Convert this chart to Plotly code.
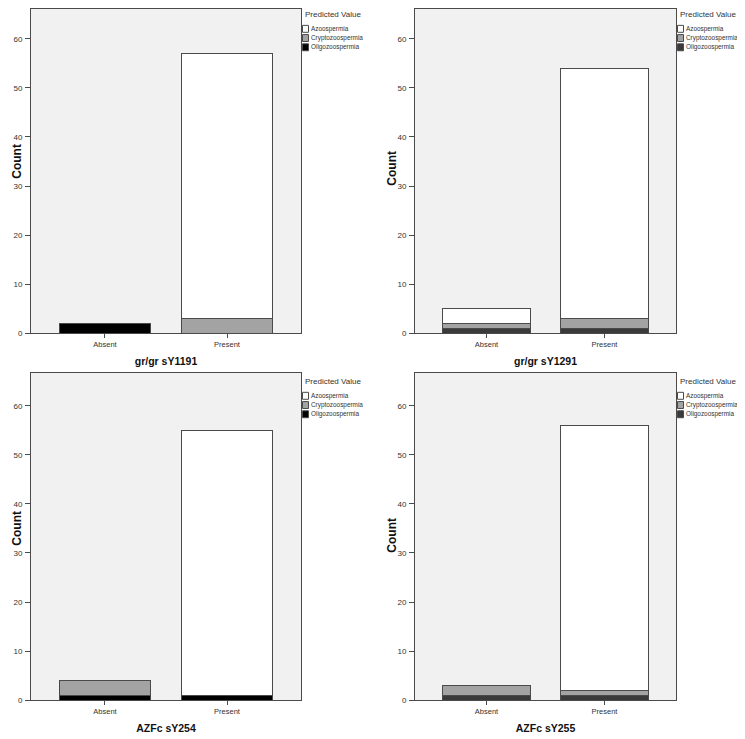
import plotly.graph_objects as go

# ---- data ----
categories = ["Absent", "Present"]
panel_titles = ["gr/gr sY1191", "gr/gr sY1291", "AZFc sY254", "AZFc sY255"]
oligo = [[2, 0], [1, 1], [1, 1], [1, 1]]
crypto = [[0, 3], [1, 2], [3, 0], [2, 1]]
azoo = [[0, 54], [3, 51], [0, 54], [0, 54]]
y_ticks = [0, 10, 20, 30, 40, 50, 60]
y_title = "Count"
legend_title = "Predicted Value"
legend_items = ["Azoospermia", "Cryptozoospermia", "Oligozoospermia"]

# ---- styling ----
PAGE_W, PAGE_H = 745, 739
OFF = 8  # default page body margin
W, H = PAGE_W - OFF, PAGE_H - OFF
FONT = "Liberation Sans, Arial, sans-serif"
BG = "#f1f1f1"
EDGE = "#4a4a4a"
CRYPTO_C = "#a3a3a3"
OLIGO_C = ["#000000", "#3a3a3a", "#000000", "#3a3a3a"]
AZOO_C = "#ffffff"


def px(p):
    return (p - OFF) / W


def py(p):
    return min(1.0, max(0.0, 1 - (p - OFF) / H))


PX_PER_UNIT = 4.95
top_row_top = max(5, OFF)
xdom = [[px(31), px(301)], [px(415), px(676)], [px(31), px(301)], [px(415), px(676)]]
ydom = [[py(335), py(top_row_top)], [py(335), py(top_row_top)],
        [py(705), py(375)], [py(705), py(375)]]
yrange_top = [(335 - top_row_top) / PX_PER_UNIT, (335 - top_row_top) / PX_PER_UNIT,
              (705 - 375) / PX_PER_UNIT, (705 - 375) / PX_PER_UNIT]
# y-title placement: left column is pinned to the page edge, right column as in the reference
ytitle_x = [0.0, px(392), 0.0, px(392)]
ytitle_xanchor = ["left", "center", "left", "center"]
ytitle_y = [py(162), py(168), py(532), py(538)]

fig = go.Figure()
layout = dict(
    width=W, height=H,
    margin=dict(l=0, r=0, t=0, b=0),
    paper_bgcolor="white",
    barmode="stack",
    showlegend=False,
    font=dict(family=FONT, color="#222"),
)
shapes, annotations = [], []

for i in range(4):
    sfx = "" if i == 0 else str(i + 1)
    xa, ya = "x" + sfx, "y" + sfx
    series = [
        ("Oligozoospermia", oligo[i], OLIGO_C[i]),
        ("Cryptozoospermia", crypto[i], CRYPTO_C),
        ("Azoospermia", azoo[i], AZOO_C),
    ]
    for name, vals, col in series:
        fig.add_trace(go.Bar(
            x=categories, y=[v if v else None for v in vals], name=name,
            xaxis=xa, yaxis=ya, width=0.75,
            marker=dict(color=col, line=dict(color=EDGE, width=1)),
            showlegend=False,
        ))
    layout["xaxis" + sfx] = dict(
        domain=xdom[i], anchor=ya, type="category",
        categoryorder="array", categoryarray=categories,
        range=[-0.606, 1.606],
        showline=True, mirror=True, linecolor=EDGE, linewidth=1,
        ticks="outside", ticklen=4, tickcolor=EDGE, showgrid=False,
        tickfont=dict(size=7.5, family=FONT, color="#333"),
        title=dict(text="<b>" + panel_titles[i] + "</b>",
                   font=dict(size=10.5, family=FONT, color="#111"), standoff=9),
    )
    layout["yaxis" + sfx] = dict(
        domain=ydom[i], anchor=xa, range=[0, yrange_top[i]],
        tickvals=y_ticks,
        showline=True, mirror=True, linecolor=EDGE, linewidth=1,
        ticks="outside", ticklen=5, tickcolor=EDGE, showgrid=False,
        zeroline=False,
        tickfont=dict(size=8, family=FONT, color="#333"),
        ticklabelstandoff=1,
    )
    # y-axis title as rotated text (kept clear of the tick labels)
    annotations.append(dict(text="<b>" + y_title + "</b>", xref="paper", yref="paper",
                            x=ytitle_x[i], y=ytitle_y[i], xanchor=ytitle_xanchor[i],
                            yanchor="middle", textangle=-90, showarrow=False,
                            font=dict(size=12, family=FONT, color="#111")))

    # plot background rectangle
    shapes.append(dict(type="rect", xref="paper", yref="paper",
                       x0=xdom[i][0], x1=xdom[i][1], y0=ydom[i][0], y1=ydom[i][1],
                       fillcolor=BG, line=dict(width=0), layer="below"))

    # legend (title + swatches), positioned relative to the reference's plot top
    lx = xdom[i][1] + 1.5 / W
    ref_top = (1 - (5 - OFF) / H) if i < 2 else py(375)
    annotations.append(dict(text=legend_title, xref="paper", yref="paper",
                            x=lx, y=ref_top - 9 / H, xanchor="left", yanchor="middle",
                            showarrow=False, font=dict(size=8, family=FONT, color="#333")))
    sw_cols = [AZOO_C, CRYPTO_C, OLIGO_C[i]]
    for k, (lab, c) in enumerate(zip(legend_items, sw_cols)):
        yc = ref_top - (23 + 9.3 * k) / H
        shapes.append(dict(type="rect", xref="paper", yref="paper",
                           x0=lx, x1=lx + 6 / W, y0=yc - 3.5 / H, y1=yc + 3.5 / H,
                           fillcolor=c, line=dict(color=EDGE, width=1)))
        annotations.append(dict(text=lab, xref="paper", yref="paper",
                                x=lx + 6 / W, y=yc, xanchor="left", yanchor="middle",
                                showarrow=False, font=dict(size=6.4, family=FONT, color="#333")))

layout["shapes"] = shapes
layout["annotations"] = annotations
layout["plot_bgcolor"] = "rgba(0,0,0,0)"
fig.update_layout(**layout)
fig.write_html("out.html")
